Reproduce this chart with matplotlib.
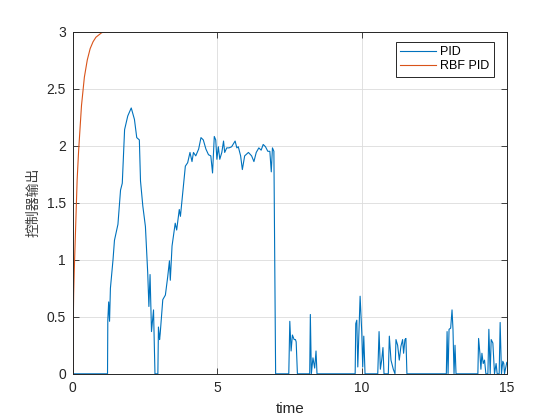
import matplotlib
matplotlib.use("Agg")
import matplotlib.pyplot as plt

plt.rcParams['font.family'] = ['Liberation Sans', 'Noto Sans CJK SC', 'DejaVu Sans']

# RBF PID output
rbf_t = [0, 0.01, 0.03, 0.05, 0.07, 0.1, 0.15, 0.2, 0.3, 0.4, 0.5, 0.6, 0.7, 0.8, 1.0, 1.2, 15]
rbf_y = [0, 0.35, 0.7, 0.9, 1.06, 1.3, 1.7, 1.95, 2.35, 2.6, 2.75, 2.85, 2.91, 2.95, 2.99, 3.0, 3.0]

# PID output
pid_t = [0, 1.20, 1.21, 1.24, 1.27, 1.30, 1.39, 1.44, 1.56, 1.65, 1.71, 1.79, 1.90, 2.02, 2.13,
         2.21, 2.30, 2.34, 2.42, 2.51, 2.59, 2.63, 2.67, 2.72, 2.79, 2.84, 2.94, 2.96, 3.00, 3.02,
         3.11, 3.20, 3.28, 3.34, 3.37, 3.43, 3.54, 3.59, 3.68, 3.72, 3.80, 3.89, 3.97, 4.05, 4.12,
         4.17, 4.25, 4.35, 4.43, 4.51, 4.60, 4.69, 4.77, 4.83, 4.89, 4.94, 4.98, 5.03, 5.08, 5.15,
         5.21, 5.25, 5.32, 5.40, 5.49, 5.61, 5.67, 5.72, 5.80, 5.86, 5.94, 6.07, 6.18, 6.26, 6.34,
         6.43, 6.51, 6.58, 6.66, 6.74, 6.81, 6.86, 6.90, 6.95, 7.01,
         7.465, 7.50, 7.545, 7.59, 7.65, 7.695, 7.72, 7.763,
         8.188, 8.21, 8.245, 8.30, 8.36, 8.406, 8.44,
         9.759, 9.78, 9.816, 9.85, 9.93, 9.988, 10.02, 10.057, 10.10,
         10.54, 10.585, 10.63, 10.676, 10.72, 10.756,
         10.905, 10.94, 10.997, 11.077, 11.135, 11.17, 11.227, 11.284, 11.34, 11.399, 11.433,
         11.479, 11.513, 11.548,
         12.91, 12.936, 12.97, 13.004, 13.06, 13.107, 13.14, 13.176, 13.21, 13.245,
         14.0, 14.025, 14.07, 14.105, 14.14, 14.185, 14.23, 14.277, 14.346, 14.38, 14.426,
         14.46, 14.518, 14.575, 14.63, 14.667, 14.736, 14.77, 14.816, 14.862, 14.896, 14.92, 15.0]
pid_y = [0, 0, 0.47, 0.63, 0.46, 0.75, 1.0, 1.17, 1.31, 1.61, 1.67, 2.14, 2.26, 2.33, 2.23,
         2.07, 2.05, 1.69, 1.47, 1.29, 0.88, 0.59, 0.87, 0.37, 0.56, 0, 0, 0.41, 0.30, 0.35,
         0.65, 0.69, 0.85, 0.99, 0.82, 1.12, 1.32, 1.26, 1.44, 1.38, 1.59, 1.82, 1.85, 1.94, 1.86,
         1.94, 1.91, 1.97, 2.07, 2.05, 1.97, 1.92, 1.91, 1.76, 2.08, 2.05, 1.88, 1.99, 1.88, 1.94,
         2.04, 1.94, 1.98, 1.98, 1.99, 2.04, 1.98, 1.99, 1.91, 1.79, 1.91, 1.94, 1.91, 1.86, 1.94,
         1.98, 1.96, 2.01, 1.99, 1.95, 1.95, 1.77, 1.98, 1.95, 0,
         0, 0.46, 0.20, 0.34, 0.30, 0.30, 0.28, 0,
         0, 0.52, 0, 0.14, 0.05, 0.20, 0,
         0, 0.44, 0.47, 0.06, 0.68, 0.36, 0.06, 0.33, 0,
         0, 0.37, 0.04, 0.12, 0.23, 0,
         0, 0.33, 0.12, 0.04, 0, 0.30, 0.25, 0.12, 0.24, 0.30, 0.18,
         0.30, 0.31, 0,
         0, 0.37, 0, 0.39, 0.40, 0.56, 0.39, 0, 0.25, 0,
         0, 0.31, 0.18, 0.04, 0.18, 0.09, 0.12, 0, 0, 0.39, 0,
         0.30, 0.27, 0, 0.09, 0, 0, 0.45, 0, 0.11, 0.09, 0, 0.1]

xticks = [0, 5, 10, 15]
yticks = [0, 0.5, 1, 1.5, 2, 2.5, 3]
ytick_labels = ['0', '0.5', '1', '1.5', '2', '2.5', '3']

fig = plt.figure(figsize=(5.6, 4.2), dpi=100)
ax = fig.add_axes([0.13, 0.11, 0.775, 0.815])

ax.plot(pid_t, pid_y, color='#0072BD', lw=0.8, label='PID')
ax.plot(rbf_t, rbf_y, color='#D95319', lw=0.8, label='RBF PID')

ax.set_xlim(0, 15)
ax.set_ylim(0, 3)
ax.set_xticks(xticks)
ax.set_yticks(yticks)
ax.set_yticklabels(ytick_labels)
ax.tick_params(direction='in', top=True, right=True, labelsize=10, length=4, width=0.6,
               colors='#262626', pad=5)
ax.grid(True, color='#dcdcdc', lw=0.6)
ax.set_axisbelow(True)
for s in ax.spines.values():
    s.set_linewidth(0.7)
    s.set_color('#262626')

ax.set_xlabel('time', fontsize=11, color='#262626', labelpad=5)
ax.set_ylabel('控制器输出', fontsize=10, color='#404040',
              family=['Noto Sans CJK SC', 'DejaVu Sans'], labelpad=4)

leg = ax.legend(loc='upper right', bbox_to_anchor=(0.970, 0.969), borderaxespad=0,
                fontsize=9, fancybox=False, framealpha=1, edgecolor='#262626',
                handlelength=2.9, borderpad=0.35, labelspacing=0.15, handletextpad=0.3)
leg.get_frame().set_linewidth(0.7)

fig.savefig('out.png', dpi=100)
